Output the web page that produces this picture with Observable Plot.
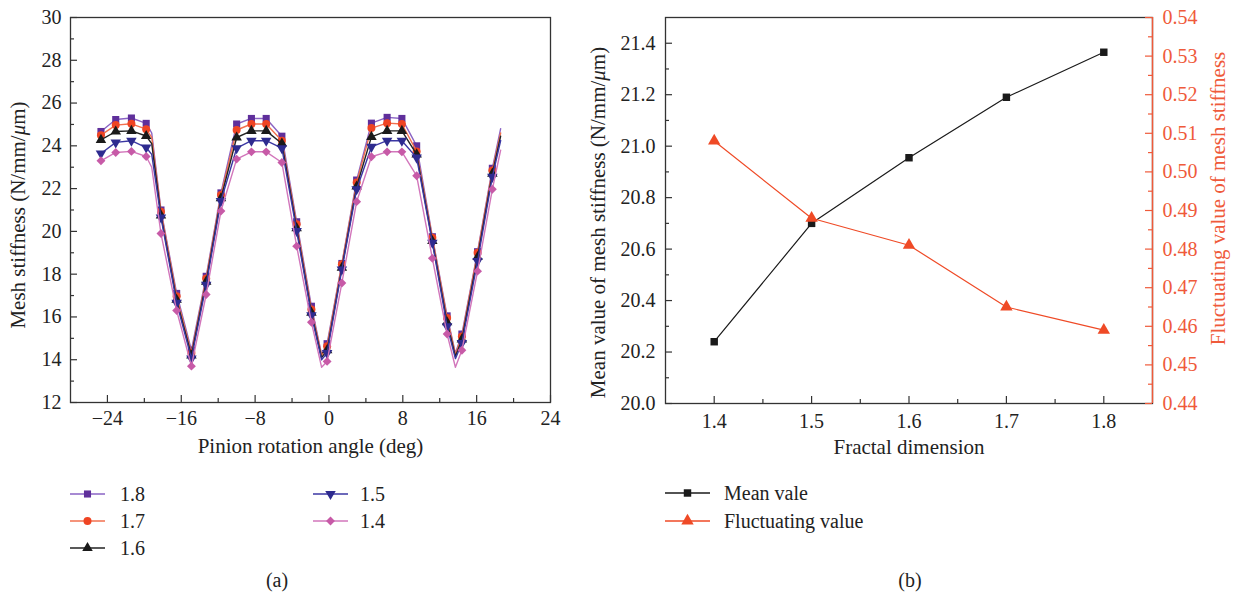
<!DOCTYPE html>
<html>
<head>
<meta charset="utf-8">
<script src="https://cdn.jsdelivr.net/npm/d3@7"></script>
<script src="https://cdn.jsdelivr.net/npm/@observablehq/plot@0.6"></script>
<style>
  html, body { margin: 0; padding: 0; background: #fff; }
  #fig { position: relative; width: 1234px; height: 601px; background: #fff; font-family: "Liberation Serif", serif; overflow: hidden; }
  #fig > * { position: absolute; }
</style>
</head>
<body>
<div id="fig"></div>
<script>
// ---------- (a) mesh stiffness vs pinion rotation angle ----------
const angles = [-24.7, -23.1, -21.4, -19.8, -18.2, -16.5, -14.9, -13.3, -11.7, -10.0, -8.4, -6.8, -5.1,
                -3.5, -1.9, -0.2, 1.4, 3.0, 4.6, 6.3, 7.9, 9.5, 11.2, 12.8, 14.4, 16.1, 17.7];
const d18 = [24.67, 25.23, 25.30, 25.05, 21.00, 17.10, 14.45, 17.90, 21.80, 25.02, 25.28, 25.28, 24.45,
             20.45, 16.50, 14.75, 18.50, 22.40, 25.06, 25.33, 25.28, 24.00, 19.75, 16.05, 15.20, 19.05, 22.95];
const d17 = [24.50, 24.97, 25.03, 24.78, 20.92, 16.97, 14.31, 17.80, 21.70, 24.74, 25.02, 25.02, 24.24,
             20.33, 16.35, 14.63, 18.46, 22.28, 24.83, 25.06, 25.02, 23.74, 19.70, 15.95, 15.09, 19.00, 22.85];
const d16 = [24.28, 24.67, 24.70, 24.46, 20.75, 16.80, 14.20, 17.65, 21.55, 24.39, 24.70, 24.70, 24.11,
             20.15, 16.20, 14.45, 18.30, 22.10, 24.42, 24.70, 24.70, 23.60, 19.55, 15.75, 14.95, 18.80, 22.70];
const d15 = [23.64, 24.16, 24.24, 23.92, 20.65, 16.66, 14.05, 17.50, 21.42, 23.89, 24.24, 24.24, 23.89,
             20.02, 16.08, 14.31, 18.22, 21.97, 23.95, 24.24, 24.24, 23.45, 19.47, 15.56, 14.78, 18.61, 22.55];
const d14 = [23.30, 23.69, 23.74, 23.50, 19.90, 16.30, 13.70, 17.05, 20.95, 23.38, 23.72, 23.72, 23.22,
             19.31, 15.75, 13.92, 17.59, 21.39, 23.49, 23.72, 23.72, 22.60, 18.74, 15.20, 14.44, 18.14, 21.97];

// points on the curves between symbols (plateau edge, trough bottoms, curve end)
const bendAngles = [-19.2, -0.8, 13.7, 18.6];
const b18 = [24.60, 14.25, 14.30, 24.80];
const b17 = [24.40, 14.20, 14.25, 24.60];
const b16 = [24.10, 14.10, 14.15, 24.45];
const b15 = [23.60, 14.00, 14.05, 24.25];
const b14 = [23.00, 13.65, 13.65, 23.80];

const levels = ["1.8", "1.7", "1.6", "1.5", "1.4"];
const markerValues = [d18, d17, d16, d15, d14];
const bendValues = [b18, b17, b16, b15, b14];

const xMajorA = [-24, -16, -8, 0, 8, 16, 24];
const xMinorA = [-20, -12, -4, 4, 12, 20];
const yMajorA = [12, 14, 16, 18, 20, 22, 24, 26, 28, 30];
const yMinorA = [13, 15, 17, 19, 21, 23, 25, 27, 29];

// ---------- (b) mean and fluctuating value vs fractal dimension ----------
const fractal = [1.4, 1.5, 1.6, 1.7, 1.8];
const meanValue = [20.24, 20.70, 20.955, 21.19, 21.365];
const fluctValue = [0.508, 0.488, 0.481, 0.465, 0.459];
const xMajorB = [1.4, 1.5, 1.6, 1.7, 1.8];
const xMinorB = [1.45, 1.55, 1.65, 1.75];
const yMajorB = [20.0, 20.2, 20.4, 20.6, 20.8, 21.0, 21.2, 21.4];
const yMinorB = [20.1, 20.3, 20.5, 20.7, 20.9, 21.1, 21.3];
const y2MajorB = [0.44, 0.45, 0.46, 0.47, 0.48, 0.49, 0.50, 0.51, 0.52, 0.53, 0.54];
const y2MinorB = [0.445, 0.455, 0.465, 0.475, 0.485, 0.495, 0.505, 0.515, 0.525, 0.535];

// ---------- styles ----------
const FONT = "Liberation Serif, serif";
const AXIS = "#333";
const RED_AXIS = "#ef5a3a";
const TXT = {fontFamily: FONT, fontVariant: "normal"};
const triangleDown = {
  draw(context, size) {
    const y = -Math.sqrt(size / (Math.sqrt(3) * 3));
    context.moveTo(0, -y * 2);
    context.lineTo(-Math.sqrt(3) * y, y);
    context.lineTo(Math.sqrt(3) * y, y);
    context.closePath();
  }
};
const seriesStyle = {
  "1.8": {line: "#8a63c4", fill: "#5f2f9b", symbol: "square", r: 4},
  "1.7": {line: "#f2704f", fill: "#ef4423", symbol: "circle", r: 4},
  "1.6": {line: "#222222", fill: "#1a1a1a", symbol: "triangle", r: 3.9},
  "1.5": {line: "#3b37a3", fill: "#2e2b8f", symbol: triangleDown, r: 3.9},
  "1.4": {line: "#d276bb", fill: "#c75aa7", symbol: "diamond2", r: 4}
};

// tables for the marks
const markerRows = levels.flatMap((lv, s) => angles.map((a, i) => ({level: lv, angle: a, k: markerValues[s][i]})));
const lineRows = levels.flatMap((lv, s) =>
  angles.map((a, i) => ({level: lv, angle: a, k: markerValues[s][i]}))
    .concat(bendAngles.map((a, i) => ({level: lv, angle: a, k: bendValues[s][i]})))
    .sort((p, q) => p.angle - q.angle));

const fig = document.getElementById("fig");

// inward tick helper: short ticks drawn from the frame edge into the plot
function ticksX(values, frameH, len, stroke) {
  return Plot.tickX(values, {x: d => d, insetTop: frameH - len, stroke, strokeWidth: 1.2});
}
function ticksY(values, frameW, len, stroke, side = "left") {
  return Plot.tickY(values, side === "left"
    ? {y: d => d, insetRight: frameW - len, stroke, strokeWidth: 1.2}
    : {y: d => d, insetLeft: frameW - len, stroke, strokeWidth: 1.2});
}

// ----- plot (a) -----
const aW = 600, aH = 470, aML = 70, aMR = 50, aMT = 17, aMB = 68;
const aFW = aW - aML - aMR, aFH = aH - aMT - aMB;
const marksA = [];
for (const lv of levels) {
  const st = seriesStyle[lv];
  marksA.push(Plot.line(lineRows.filter(d => d.level === lv), {x: "angle", y: "k", stroke: st.line, strokeWidth: 1.4}));
  marksA.push(Plot.dot(markerRows.filter(d => d.level === lv), {x: "angle", y: "k", fill: st.fill, symbol: st.symbol, r: st.r}));
}
const plotA = Plot.plot({
  width: aW, height: aH, marginLeft: aML, marginRight: aMR, marginTop: aMT, marginBottom: aMB,
  style: {fontFamily: FONT, fontSize: "20px", background: "transparent", color: "#222"},
  x: {domain: [-28, 24]},
  y: {domain: [12, 30]},
  marks: [
    ...marksA,
    Plot.frame({stroke: AXIS, strokeWidth: 1.3}),
    ticksX(xMajorA, aFH, 7, AXIS),
    ticksX(xMinorA, aFH, 4, AXIS),
    ticksY(yMajorA, aFW, 7, AXIS),
    ticksY(yMinorA, aFW, 4, AXIS),
    Plot.axisX(xMajorA, {...TXT, tickSize: 0, tickPadding: 8, fontSize: 20, fill: "#222", label: null}),
    Plot.axisY(yMajorA, {...TXT, tickSize: 0, tickPadding: 9, fontSize: 20, fill: "#222", label: null}),
    Plot.text(["Pinion rotation angle (deg)"], {...TXT, frameAnchor: "bottom", dy: 50, fontSize: 21, fill: "#222"}),
    Plot.text(["Mesh stiffness (N/mm/μm)"], {...TXT, frameAnchor: "left", textAnchor: "middle", dx: -52, dy: 5, rotate: -90, fontSize: 21, fill: "#222"})
  ]
});
plotA.style.left = "0px";
plotA.style.top = "0px";
fig.appendChild(plotA);

// ----- plot (b) -----
const toLeft = d3.scaleLinear([0.44, 0.54], [20.0, 21.5]);
const bLeft = 580;
const bW = 654, bH = 470, bML = 85, bMR = 82, bMT = 17, bMB = 67;
const bFW = bW - bML - bMR, bFH = bH - bMT - bMB;
const meanRows = fractal.map((f, i) => ({f, v: meanValue[i]}));
const fluctRows = fractal.map((f, i) => ({f, v: toLeft(fluctValue[i])}));
const plotB = Plot.plot({
  width: bW, height: bH, marginLeft: bML, marginRight: bMR, marginTop: bMT, marginBottom: bMB,
  style: {fontFamily: FONT, fontSize: "20px", background: "transparent", color: "#222"},
  x: {domain: [1.35, 1.85]},
  y: {domain: [20.0, 21.5]},
  marks: [
    Plot.line(meanRows, {x: "f", y: "v", stroke: "#1a1a1a", strokeWidth: 1.2}),
    Plot.dot(meanRows, {x: "f", y: "v", fill: "#1a1a1a", symbol: "square", r: 4.2}),
    Plot.line(fluctRows, {x: "f", y: "v", stroke: "#ef4a26", strokeWidth: 1.2}),
    Plot.dot(fluctRows, {x: "f", y: "v", fill: "#ef4a26", symbol: "triangle", r: 4.6}),
    Plot.frame({stroke: AXIS, strokeWidth: 1.3}),
    Plot.ruleX([1.85], {stroke: RED_AXIS, strokeWidth: 1.4}),
    ticksX(xMajorB, bFH, 7, AXIS),
    ticksX(xMinorB, bFH, 4, AXIS),
    ticksY(yMajorB, bFW, 7, AXIS),
    ticksY(yMinorB, bFW, 4, AXIS),
    ticksY(y2MajorB.map(toLeft), bFW, 7, RED_AXIS, "right"),
    ticksY(y2MinorB.map(toLeft), bFW, 4, RED_AXIS, "right"),
    Plot.axisX(xMajorB, {...TXT, tickSize: 0, tickPadding: 10, fontSize: 20, fill: "#222", label: null, tickFormat: d => d.toFixed(1)}),
    Plot.axisY(yMajorB, {...TXT, tickSize: 0, tickPadding: 10, fontSize: 20, fill: "#222", label: null, tickFormat: d => d.toFixed(1)}),
    Plot.axisY(y2MajorB.map(toLeft), {...TXT, anchor: "right", tickSize: 0, tickPadding: 10, fontSize: 20, fill: RED_AXIS, label: null,
      tickFormat: d => toLeft.invert(d).toFixed(2)}),
    Plot.text(["Fractal dimension"], {...TXT, frameAnchor: "bottom", dy: 50, fontSize: 21, fill: "#222"}),
    Plot.text(["Mean value of mesh stiffness (N/mm/μm)"], {...TXT, frameAnchor: "left", textAnchor: "middle", dx: -67, dy: 12, rotate: -90, fontSize: 21, fill: "#222"}),
    Plot.text(["Fluctuating value of mesh stiffness"], {...TXT, frameAnchor: "right", textAnchor: "middle", dx: 66, dy: -12, rotate: -90, fontSize: 21, fill: RED_AXIS})
  ]
});
plotB.style.left = bLeft + "px";
plotB.style.top = "0px";
fig.appendChild(plotB);

// italic μ in the unit labels
for (const svg of [plotA, plotB]) {
  svg.querySelectorAll("text").forEach(t => {
    if (t.textContent.includes("μ") && t.children.length === 0) {
      const parts = t.textContent.split("μ");
      t.textContent = "";
      parts.forEach((p, i) => {
        if (i > 0) {
          const ts = document.createElementNS("http://www.w3.org/2000/svg", "tspan");
          ts.setAttribute("font-style", "italic");
          ts.textContent = "μ";
          t.appendChild(ts);
        }
        t.appendChild(document.createTextNode(p));
      });
    }
  });
}

// ---------- legends and panel letters ----------
const overlay = d3.create("svg").attr("width", 1234).attr("height", 601)
  .style("left", "0px").style("top", "0px").style("font-family", FONT).style("font-size", "20px");

function symbolPath(sym, r) {
  const type = sym === "square" ? d3.symbolSquare : sym === "circle" ? d3.symbolCircle
    : sym === "triangle" ? d3.symbolTriangle : sym === "diamond2" ? d3.symbolDiamond2 : sym;
  return d3.symbol(type, r * r * Math.PI)();
}
function legendItem(x0, x1, y, tx, label, line, fill, sym, r, lw) {
  overlay.append("line").attr("x1", x0).attr("x2", x1).attr("y1", y).attr("y2", y)
    .attr("stroke", line).attr("stroke-width", lw);
  overlay.append("path").attr("d", symbolPath(sym, r))
    .attr("transform", `translate(${(x0 + x1) / 2},${y})`).attr("fill", fill);
  overlay.append("text").attr("x", tx).attr("y", y).attr("dy", "0.35em").attr("fill", "#222").text(label);
}
const legendPosA = [[70, 105, 494, 120], [70, 105, 521, 120], [70, 105, 548, 120], [313, 348, 494, 360], [313, 348, 521, 360]];
levels.forEach((lv, i) => {
  const st = seriesStyle[lv];
  const [x0, x1, y, tx] = legendPosA[i];
  legendItem(x0, x1, y, tx, lv, st.line, st.fill, st.symbol, st.r, 1.6);
});
legendItem(665, 710, 493, 724, "Mean vale", "#1a1a1a", "#1a1a1a", "square", 4.2, 1.4);
legendItem(665, 710, 521, 724, "Fluctuating value", "#ef4a26", "#ef4a26", "triangle", 4.6, 1.4);

overlay.append("text").attr("x", 277).attr("y", 580).attr("dy", "0.35em").attr("text-anchor", "middle").attr("fill", "#222").text("(a)");
overlay.append("text").attr("x", 910).attr("y", 580).attr("dy", "0.35em").attr("text-anchor", "middle").attr("fill", "#222").text("(b)");
overlay.style("pointer-events", "none");
fig.appendChild(overlay.node());
</script>
</body>
</html>
